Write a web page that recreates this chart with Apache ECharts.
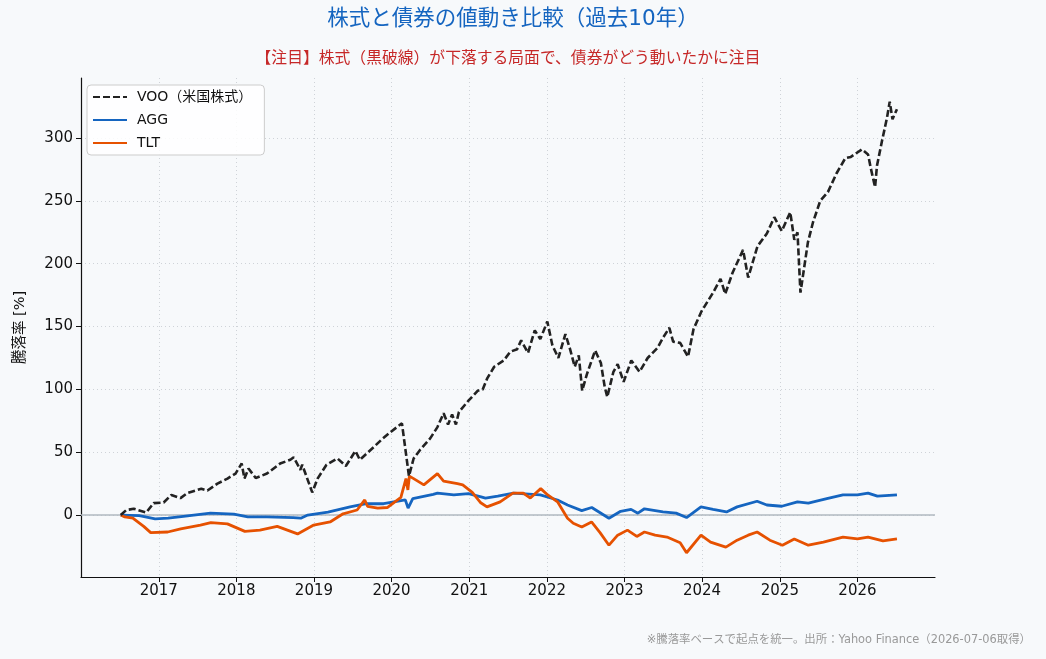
<!DOCTYPE html>
<html>
<head>
<meta charset="utf-8">
<script src="https://cdn.jsdelivr.net/npm/echarts@6/dist/echarts.min.js"></script>
<style>
  html, body { margin: 0; padding: 0; background: #f7f9fb; }
  #main { width: 1046px; height: 659px; }
</style>
</head>
<body>
<div id="main"></div>
<script>
// 騰落率 [%]（起点 2016-07-06 = 0）
const voo = [
  ['2016-07-06', 0], ['2016-08-01', 4], ['2016-09-05', 5], ['2016-11-03', 2], ['2016-12-08', 9.5],
  ['2017-01-24', 10], ['2017-03-01', 16], ['2017-04-13', 13.5], ['2017-05-16', 17.5], ['2017-07-20', 21],
  ['2017-08-18', 19.5], ['2017-10-04', 25], ['2017-11-20', 29], ['2017-12-28', 33], ['2018-01-26', 41],
  ['2018-02-08', 29], ['2018-02-27', 37], ['2018-04-02', 29.5], ['2018-05-25', 33], ['2018-07-26', 41],
  ['2018-09-12', 44], ['2018-09-28', 46], ['2018-10-29', 36], ['2018-11-07', 40], ['2018-12-24', 18],
  ['2019-01-18', 29], ['2019-03-01', 40], ['2019-04-22', 45], ['2019-05-31', 39], ['2019-07-15', 51],
  ['2019-08-05', 44], ['2019-10-15', 55], ['2019-11-15', 60], ['2019-12-27', 66], ['2020-02-19', 73],
  ['2020-03-23', 31], ['2020-04-14', 45], ['2020-05-15', 52], ['2020-07-01', 61], ['2020-08-04', 70],
  ['2020-09-02', 81], ['2020-09-23', 72], ['2020-10-12', 80], ['2020-10-30', 72], ['2020-11-13', 82],
  ['2020-12-28', 91], ['2021-02-10', 99], ['2021-03-05', 100], ['2021-03-27', 109], ['2021-04-28', 118],
  ['2021-06-12', 123], ['2021-07-13', 130], ['2021-08-14', 132], ['2021-09-02', 139], ['2021-10-04', 129],
  ['2021-11-05', 147], ['2021-12-01', 140], ['2022-01-03', 154], ['2022-01-27', 135], ['2022-02-24', 125],
  ['2022-03-29', 144], ['2022-04-20', 132], ['2022-05-12', 118], ['2022-05-31', 127], ['2022-06-16', 99],
  ['2022-07-08', 112], ['2022-08-16', 131], ['2022-09-12', 121], ['2022-09-30', 102], ['2022-10-12', 94],
  ['2022-11-10', 114], ['2022-11-30', 120], ['2022-12-28', 106], ['2023-02-02', 123], ['2023-03-13', 114],
  ['2023-04-20', 125], ['2023-06-05', 133], ['2023-07-01', 141], ['2023-07-31', 149], ['2023-08-18', 138],
  ['2023-09-20', 137], ['2023-10-27', 126], ['2023-11-22', 148], ['2023-12-29', 162], ['2024-02-22', 177],
  ['2024-03-28', 188], ['2024-04-19', 176], ['2024-05-24', 193], ['2024-07-12', 211], ['2024-08-05', 189],
  ['2024-09-18', 214], ['2024-11-01', 224], ['2024-12-06', 237], ['2025-01-10', 226], ['2025-02-19', 241],
  ['2025-03-10', 219], ['2025-03-25', 225], ['2025-04-08', 177], ['2025-05-13', 217], ['2025-06-06', 233],
  ['2025-07-10', 250], ['2025-08-15', 257], ['2025-09-25', 272], ['2025-11-05', 284], ['2025-12-01', 285],
  ['2026-01-22', 291], ['2026-02-20', 287], ['2026-03-05', 276], ['2026-03-25', 261], ['2026-04-03', 278],
  ['2026-04-27', 298], ['2026-05-20', 316], ['2026-06-02', 329], ['2026-06-15', 315], ['2026-07-06', 323]
];

const agg = [
  ['2016-07-06', 0], ['2016-10-01', -0.5], ['2016-12-15', -3], ['2017-02-14', -2.5], ['2017-04-27', -1],
  ['2017-09-01', 1.5], ['2017-12-20', 0.8], ['2018-02-24', -1.5], ['2018-05-25', -1.5], ['2018-09-25', -2],
  ['2018-10-31', -2.5], ['2018-12-03', 0], ['2019-03-08', 2.4], ['2019-06-20', 6.5], ['2019-09-04', 9],
  ['2019-11-25', 9], ['2020-03-06', 12], ['2020-03-19', 5.5], ['2020-04-10', 13], ['2020-07-15', 16.5],
  ['2020-08-04', 17.5], ['2020-10-20', 16], ['2020-12-28', 17], ['2021-02-25', 14.5], ['2021-03-18', 13.5],
  ['2021-05-15', 15], ['2021-07-28', 17.5], ['2021-12-01', 16], ['2022-02-20', 12], ['2022-04-08', 8],
  ['2022-06-14', 3.5], ['2022-07-31', 6], ['2022-10-20', -2.5], ['2022-12-14', 3], ['2023-02-01', 4.5],
  ['2023-03-05', 1.5], ['2023-04-05', 5], ['2023-07-01', 2.5], ['2023-09-01', 1.5], ['2023-10-20', -2],
  ['2023-12-27', 6.5], ['2024-02-22', 4.5], ['2024-04-25', 2.5], ['2024-06-14', 6.5], ['2024-09-16', 11],
  ['2024-11-01', 8], ['2025-01-10', 7], ['2025-03-25', 10.5], ['2025-05-15', 9.5], ['2025-08-10', 13],
  ['2025-10-25', 16], ['2026-01-01', 16], ['2026-02-20', 17.5], ['2026-04-05', 15], ['2026-07-06', 16]
];

const tlt = [
  ['2016-07-06', 0], ['2016-07-25', -1.5], ['2016-09-01', -2.5], ['2016-10-22', -9], ['2016-11-24', -14],
  ['2017-02-12', -13.5], ['2017-04-14', -11], ['2017-07-16', -8], ['2017-09-03', -6], ['2017-11-20', -7],
  ['2018-02-10', -13], ['2018-04-22', -12], ['2018-07-12', -9], ['2018-10-16', -15], ['2018-12-31', -8],
  ['2019-03-18', -5.5], ['2019-05-18', 1], ['2019-07-23', 4], ['2019-08-28', 12], ['2019-09-10', 7],
  ['2019-10-28', 5.5], ['2019-12-12', 6], ['2020-02-14', 14], ['2020-03-09', 29], ['2020-03-18', 20],
  ['2020-03-25', 31], ['2020-04-14', 29], ['2020-06-01', 24], ['2020-08-04', 33], ['2020-09-02', 27],
  ['2020-11-06', 25], ['2020-12-01', 24], ['2021-01-15', 18], ['2021-02-22', 10], ['2021-03-25', 6.5],
  ['2021-05-26', 10.5], ['2021-07-25', 17.5], ['2021-09-12', 17.5], ['2021-10-15', 13.5], ['2021-12-03', 21],
  ['2022-01-05', 16], ['2022-02-20', 10.5], ['2022-04-08', -2.5], ['2022-05-05', -6.5], ['2022-06-14', -9.5],
  ['2022-07-30', -5.5], ['2022-09-08', -14], ['2022-10-20', -24], ['2022-11-30', -16], ['2023-01-15', -12],
  ['2023-02-28', -17], ['2023-04-05', -13.5], ['2023-05-25', -16], ['2023-07-20', -17.5], ['2023-09-20', -22],
  ['2023-10-20', -30], ['2023-12-27', -16], ['2024-02-10', -21.5], ['2024-04-22', -25.5], ['2024-06-14', -20],
  ['2024-08-05', -16], ['2024-09-16', -13.5], ['2024-11-15', -20], ['2025-01-13', -24], ['2025-03-10', -19],
  ['2025-05-15', -24], ['2025-07-25', -21.5], ['2025-10-25', -17.5], ['2026-01-01', -19], ['2026-02-20', -17.5],
  ['2026-05-01', -20.5], ['2026-07-06', -19]
];

const yearTicks = ['2017', '2018', '2019', '2020', '2021', '2022', '2023', '2024', '2025', '2026'];
const yTicks = [0, 50, 100, 150, 200, 250, 300];

const font = "'DejaVu Sans', 'Noto Sans CJK JP', sans-serif";
const ts = d => new Date(d + 'T00:00:00').getTime();
const yearStamps = yearTicks.map(y => ts(y + '-01-01'));
const toXY = arr => arr.map(p => [ts(p[0]), p[1]]);

var chartDom = document.getElementById('main');
var myChart = echarts.init(chartDom);
var option;

option = {
  backgroundColor: '#f7f9fb',
  animation: false,
  textStyle: { fontFamily: font },
  graphic: [
    {
      type: 'text', x: 513, y: 19,
      style: { text: '株式と債券の値動き比較（過去10年）', fontSize: 21.5, fill: '#1565c0', align: 'center', verticalAlign: 'middle', fontFamily: font }
    },
    {
      type: 'text', x: 508, y: 59,
      style: { text: '【注目】株式（黒破線）が下落する局面で、債券がどう動いたかに注目', fontSize: 15.8, fill: '#c62828', align: 'center', verticalAlign: 'middle', fontFamily: font }
    },
    {
      type: 'text', x: 1031, y: 640,
      style: { text: '※騰落率ベースで起点を統一。出所：Yahoo Finance（2026-07-06取得）', fontSize: 11.4, fill: '#999999', align: 'right', verticalAlign: 'middle', fontFamily: font }
    }
  ],
  legend: {
    data: ['VOO（米国株式）', 'AGG', 'TLT'],
    orient: 'vertical',
    left: 87,
    top: 85,
    padding: [5, 12, 5, 5],
    itemGap: 9,
    itemWidth: 34,
    itemHeight: 16,
    backgroundColor: 'rgba(255,255,255,0.85)',
    borderColor: '#cccccc',
    borderWidth: 1,
    borderRadius: 4,
    itemStyle: { color: 'rgba(0,0,0,0)', borderWidth: 0 },
    textStyle: { fontSize: 14, color: '#111', padding: [0, 0, 0, 5], fontFamily: font }
  },
  grid: {
    left: 81,
    right: 111,
    top: 78,
    bottom: 82,
    outerBoundsMode: 'none'
  },
  xAxis: {
    type: 'value',
    min: ts('2016-01-01'),
    max: ts('2027-01-01'),
    axisLine: { show: true, onZero: false, lineStyle: { color: '#111', width: 1.2 } },
    axisTick: { show: true, length: 5, customValues: yearStamps, lineStyle: { color: '#111' } },
    axisLabel: {
      customValues: yearStamps,
      margin: 7,
      fontSize: 15,
      color: '#111',
      fontFamily: font,
      formatter: v => String(new Date(v).getFullYear())
    },
    splitLine: { show: true, lineStyle: { color: '#cfd3d8', type: [1, 3], width: 1 } }
  },
  yAxis: {
    type: 'value',
    min: -49.3,
    max: 347.8,
    name: '騰落率 [%]',
    nameLocation: 'middle',
    nameGap: 54,
    nameTextStyle: { fontSize: 14.5, color: '#111', fontFamily: font },
    axisLine: { show: true, onZero: false, lineStyle: { color: '#111', width: 1.2 } },
    axisTick: { show: true, length: 5, customValues: yTicks, lineStyle: { color: '#111' } },
    axisLabel: { customValues: yTicks, margin: 8, fontSize: 15, color: '#111', fontFamily: font },
    splitLine: { show: true, lineStyle: { color: '#cfd3d8', type: [1, 3], width: 1 } }
  },
  series: [
    {
      name: 'VOO（米国株式）',
      type: 'line',
      data: toXY(voo),
      symbol: 'none',
      color: '#222222',
      lineStyle: { color: '#222222', width: 2.6, type: [7, 3] },
      z: 3
    },
    {
      name: 'AGG',
      type: 'line',
      data: toXY(agg),
      symbol: 'none',
      color: '#1565c0',
      lineStyle: { color: '#1565c0', width: 2.8 },
      z: 2,
      markLine: {
        silent: true,
        symbol: 'none',
        label: { show: false },
        lineStyle: { color: '#b0b8c0', width: 1.5, type: 'solid' },
        data: [{ yAxis: 0 }],
        z: 1
      }
    },
    {
      name: 'TLT',
      type: 'line',
      data: toXY(tlt),
      symbol: 'none',
      color: '#e65100',
      lineStyle: { color: '#e65100', width: 2.8 },
      z: 2
    }
  ]
};

option && myChart.setOption(option);
</script>
</body>
</html>
